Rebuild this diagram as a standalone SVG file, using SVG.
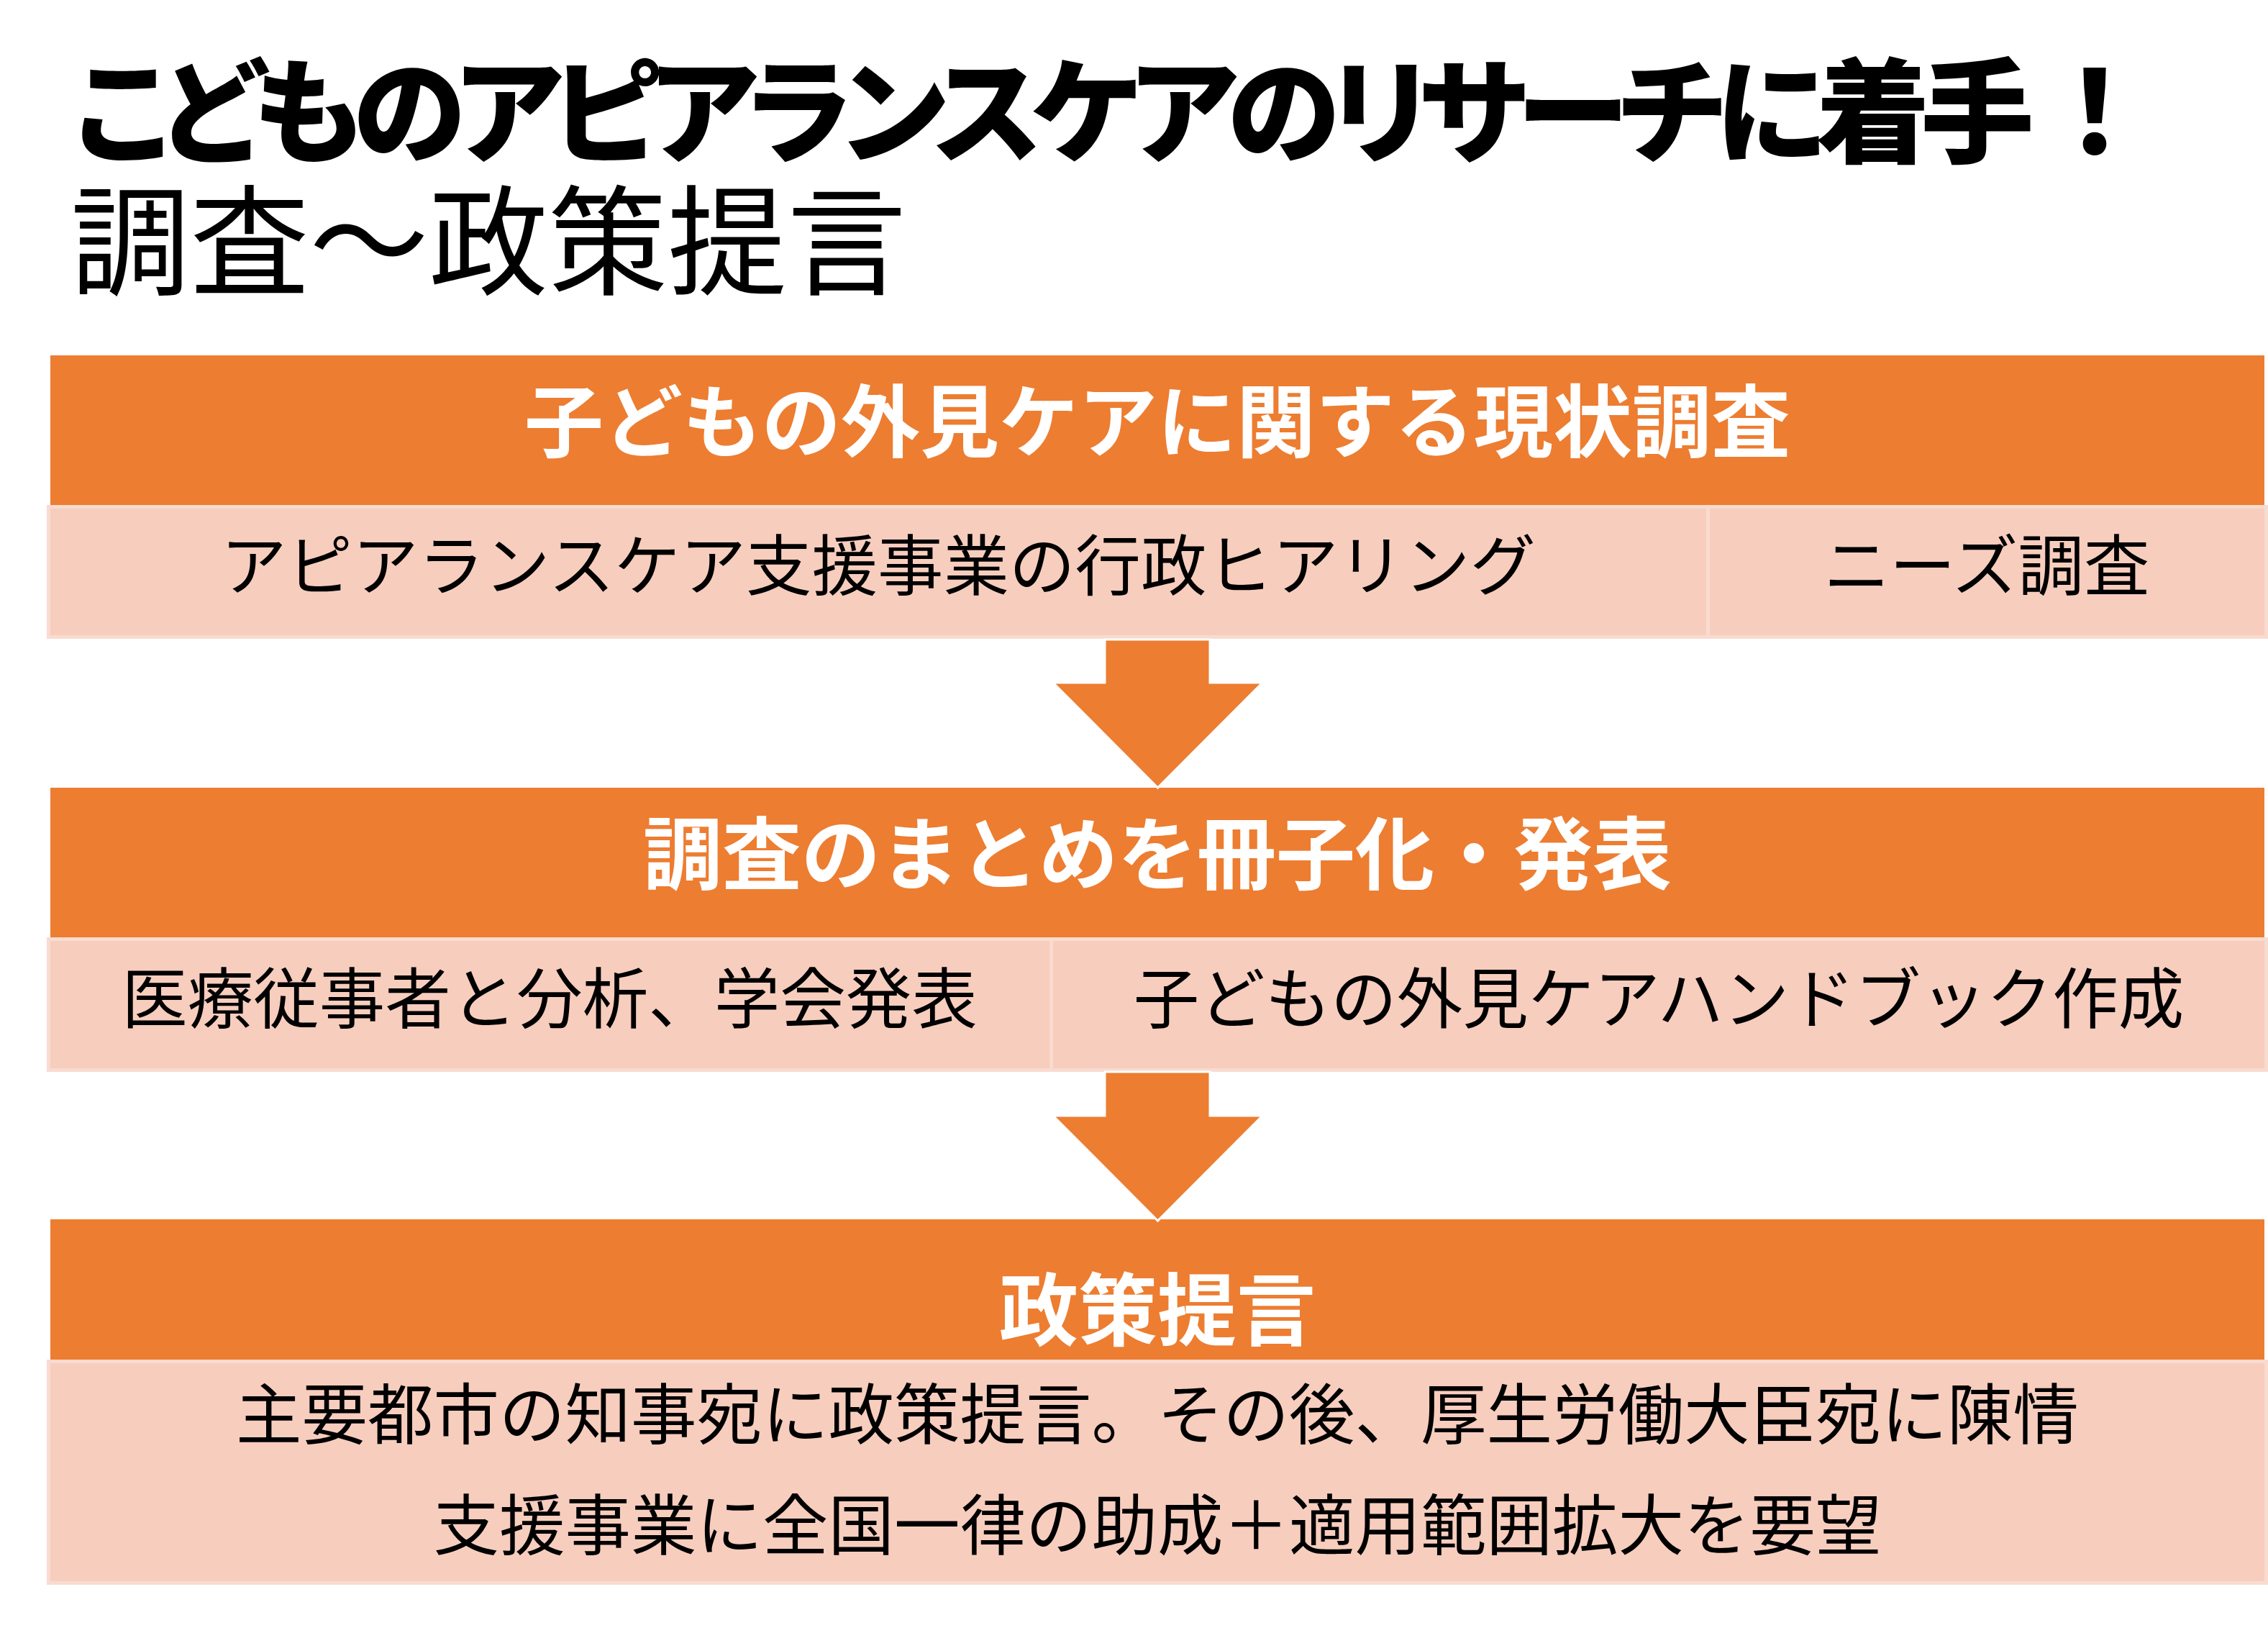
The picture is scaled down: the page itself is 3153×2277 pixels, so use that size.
<svg xmlns="http://www.w3.org/2000/svg" width="3153" height="2277" viewBox="0 0 3153 2277">
<style>
  .jp { font-family: "Noto Sans CJK JP", "Noto Sans", sans-serif; }
  .t1 { font-size: 158px; font-weight: 900; fill: #000; font-feature-settings: "palt"; }
  .t1x { font-size: 160px; font-weight: 900; fill: #000; text-anchor: middle; }
  .t2 { font-size: 166px; font-weight: 400; fill: #000; }
  .hd { font-size: 110px; font-weight: 700; fill: #ffffff; text-anchor: middle; }
  .bd { font-size: 91.5px; font-weight: 400; fill: #000; text-anchor: middle; }
  .head { fill: #ED7D31; }
  .edge { fill: #F9DBD0; }
  .cell { fill: #F7CDBE; }
  .arrow { fill: #ED7D31; stroke: #ffffff; stroke-width: 3; stroke-linejoin: miter; }
</style>
<rect width="3153" height="2277" fill="#ffffff"/>

<g id="title">
  <text class="jp t1" x="104" y="214" textLength="2724" lengthAdjust="spacing">こどものアピアランスケアのリサーチに着手</text>
  <text class="jp t1x" x="2912" y="214">！</text>
  <text class="jp t2" x="98" y="397">調査～政策提言</text>
</g>

<g id="node-survey">
  <rect class="head" x="70" y="494" width="3078" height="208"/>
  <text class="jp hd" x="1609" y="627">子どもの外見ケアに関する現状調査</text>
  <rect class="edge" x="65" y="702" width="3088" height="186"/>
  <rect class="cell" x="70" y="707" width="2302" height="176"/>
  <rect class="cell" x="2377" y="707" width="771" height="176"/>
  <text class="jp bd" x="1221" y="820">アピアランスケア支援事業の行政ヒアリング</text>
  <text class="jp bd" x="2762" y="820">ニーズ調査</text>
</g>

<g id="node-publish">
  <rect class="head" x="70" y="1095" width="3078" height="208"/>
  <text class="jp hd" x="1609" y="1228">調査のまとめを冊子化・発表</text>
  <rect class="edge" x="65" y="1303" width="3088" height="187"/>
  <rect class="cell" x="70" y="1308" width="1389" height="177"/>
  <rect class="cell" x="1464" y="1308" width="1684" height="177"/>
  <text class="jp bd" x="764" y="1422">医療従事者と分析、学会発表</text>
  <text class="jp bd" x="2306" y="1422">子どもの外見ケアハンドブック作成</text>
</g>

<g id="node-policy">
  <rect class="head" x="70" y="1695" width="3078" height="195"/>
  <text class="jp hd" x="1609" y="1862">政策提言</text>
  <rect class="edge" x="65" y="1890" width="3088" height="313"/>
  <rect class="cell" x="70" y="1895" width="3078" height="303"/>
  <text class="jp bd" x="1609" y="2000">主要都市の知事宛に政策提言。その後、厚生労働大臣宛に陳情</text>
  <text class="jp bd" x="1609" y="2154">支援事業に全国一律の助成＋適用範囲拡大を要望</text>
</g>

<g id="connectors">
  <polygon class="arrow" points="1536,889 1682,889 1682,949 1755,949 1609.5,1095 1464,949 1536,949"/>
  <polygon class="arrow" points="1536,1490 1682,1490 1682,1551 1755,1551 1609.5,1697 1464,1551 1536,1551"/>
</g>
</svg>
